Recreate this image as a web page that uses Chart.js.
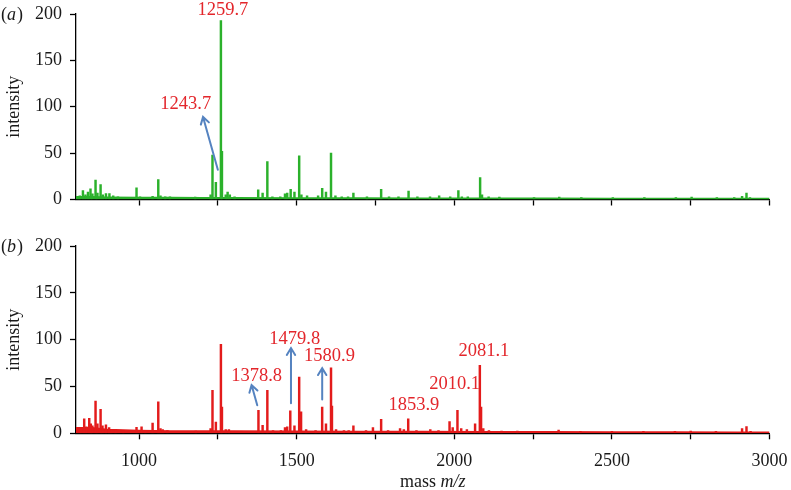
<!DOCTYPE html>
<html>
<head>
<meta charset="utf-8">
<script src="https://cdn.jsdelivr.net/npm/chart.js@4.4.0/dist/chart.umd.min.js"></script>
<style>
  body { margin: 0; background: #fff; }
  canvas { position: absolute; left: 0; }
  #specA { top: 0; }
  #specB { top: 230px; }
</style>
</head>
<body>
<canvas id="specA" width="791" height="215"></canvas>
<canvas id="specB" width="791" height="260"></canvas>
<script>
// peak lists (mass m/z, intensity)
const massA = [805, 812, 822, 830, 838, 846, 852, 862, 868, 878, 885, 895, 906, 918, 933, 992, 1003, 1043, 1061, 1068, 1083, 1098, 1178, 1227, 1233, 1243.7, 1259.7, 1263, 1275, 1281, 1288, 1303, 1378, 1392, 1407, 1423, 1448, 1463, 1470, 1481, 1493, 1508, 1515, 1533, 1568, 1581, 1593, 1609, 1623, 1643, 1663, 1680, 1723, 1768, 1793, 1823, 1855, 1883, 1923, 1952, 1987, 2013, 2024, 2043, 2082, 2088, 2109, 2143, 2253, 2333, 2403, 2503, 2603, 2703, 2753, 2833, 2888, 2913, 2927, 2938];
const intA  = [3, 4, 9.5, 5, 8, 11.5, 6, 21, 7, 16, 5, 6.5, 6.5, 4, 3, 12.5, 3, 3.5, 21.5, 4, 3, 3, 2.5, 5, 48, 18.5, 193, 52, 5, 8, 5, 3, 10.5, 7, 41, 3, 3, 6, 7, 11, 8, 47, 5, 4, 4, 12, 8, 50, 4, 3, 3, 7, 3, 11, 3, 3, 9, 3, 3, 4, 3, 9.5, 3, 3, 23.5, 5, 3, 2.5, 2, 2.5, 2, 2, 2, 2, 2.5, 2, 2, 3.5, 7, 2];

const massB = [805, 812, 818, 826, 833, 842, 847, 852, 862, 868, 878, 884, 895, 905, 912, 925, 950, 992, 1008, 1020, 1043, 1061, 1068, 1075, 1090, 1180, 1227, 1233, 1243.7, 1259.7, 1263, 1275, 1285, 1378.8, 1392, 1407, 1425, 1450, 1463, 1470, 1479.8, 1493, 1508, 1514, 1530, 1560, 1580.9, 1593, 1609, 1612, 1625, 1650, 1665, 1680, 1720, 1742, 1768, 1790, 1828, 1840, 1853.9, 1880, 1924, 1950, 1985, 1995, 2010.1, 2022, 2040, 2066, 2081.1, 2085, 2092, 2110, 2150, 2200, 2331, 2400, 2500, 2600, 2700, 2750, 2830, 2913, 2927, 2940];
const intB  = [5, 6, 4, 15.5, 7, 16, 10, 8, 34.5, 10, 25.5, 8, 9, 6, 4, 3, 3, 6.5, 7, 3, 11, 33.5, 5, 4, 3, 2.5, 5, 46, 12, 95, 28, 4, 4, 24.5, 8.5, 46, 3, 3, 6, 7, 24, 8, 60, 23, 4, 3, 28, 10, 70, 29, 4, 3, 3, 8, 3, 6, 15, 3, 5, 4, 15.5, 3, 4, 3, 12.5, 6, 24.5, 5, 4, 10, 72.5, 28, 5, 3, 2.5, 2.5, 3.5, 2, 2, 2, 2, 2.5, 2, 5, 7.3, 2];

// baseline noise level
const baseMass = [800, 850, 900, 1000, 1100, 1200, 1300, 1500, 1700, 1900, 2100, 2300, 2500, 2700, 2900, 3000];
const baseA    = [3, 3, 2.5, 2, 2, 1.8, 1.8, 1.6, 1.5, 1.4, 1.3, 1.2, 1.1, 1, 1, 1];
const baseB    = [6, 6, 4, 3, 2.5, 2.5, 2.5, 2.2, 2, 1.8, 1.6, 1.5, 1.4, 1.3, 1.2, 1.2];

const xTicks = [1000, 1250, 1500, 1750, 2000, 2250, 2500, 2750, 3000];
const yTicks = [0, 25, 50, 75, 100, 125, 150, 175, 200];

// peak labels and arrows, in data units
const labelsA = [
  { text: "1259.7", mass: 1266, int: 204 },
  { text: "1243.7", mass: 1148, int: 103 }
];
const arrowsA = [
  { from: [1250, 32], to: [1203, 89] }
];
const labelsB = [
  { text: "1378.8", mass: 1373, int: 61 },
  { text: "1479.8", mass: 1494, int: 101 },
  { text: "1580.9", mass: 1604, int: 82 },
  { text: "1853.9", mass: 1872, int: 30 },
  { text: "2010.1", mass: 2001, int: 52.5 },
  { text: "2081.1", mass: 2094, int: 88 }
];
const arrowsB = [
  { from: [1375, 30], to: [1357, 51.5] },
  { from: [1482, 32], to: [1482, 91] },
  { from: [1581, 36], to: [1581, 69.5] }
];

const serif = '"Liberation Serif", "Times New Roman", serif';

const toPoints = (xs, ys) => xs.map((x, i) => ({ x: x, y: ys[i] }));

// draws peak labels, arrows, panel tag and the x title
const decor = {
  id: "decor",
  afterDraw(chart, args, opts) {
    const { ctx, scales: { x, y } } = chart;
    ctx.save();
    ctx.font = "18.5px " + serif;
    ctx.fillStyle = "#e3262b";
    ctx.textAlign = "center";
    ctx.textBaseline = "middle";
    opts.labels.forEach(l => {
      ctx.fillText(l.text, x.getPixelForValue(l.mass), y.getPixelForValue(l.int));
    });

    ctx.strokeStyle = "#5583c0";
    ctx.lineWidth = 2;
    ctx.lineCap = "round";
    opts.arrows.forEach(a => {
      const x1 = x.getPixelForValue(a.from[0]), y1 = y.getPixelForValue(a.from[1]);
      const x2 = x.getPixelForValue(a.to[0]), y2 = y.getPixelForValue(a.to[1]);
      const ang = Math.atan2(y2 - y1, x2 - x1);
      const h = 8;
      ctx.beginPath();
      ctx.moveTo(x1, y1);
      ctx.lineTo(x2, y2);
      ctx.moveTo(x2 - h * Math.cos(ang - 0.55), y2 - h * Math.sin(ang - 0.55));
      ctx.lineTo(x2, y2);
      ctx.lineTo(x2 - h * Math.cos(ang + 0.55), y2 - h * Math.sin(ang + 0.55));
      ctx.stroke();
    });

    // panel tag like "(a)" with italic letter
    ctx.fillStyle = "#1a1a1a";
    ctx.textAlign = "left";
    let tx = 1;
    const ty = y.getPixelForValue(200) + 1;
    ctx.font = "18px " + serif;
    ctx.fillText("(", tx, ty);
    tx += ctx.measureText("(").width;
    ctx.font = "italic 18px " + serif;
    ctx.fillText(opts.tag, tx, ty);
    tx += ctx.measureText(opts.tag).width + 1;
    ctx.font = "18px " + serif;
    ctx.fillText(")", tx, ty);

    if (opts.xTitle) {
      ctx.font = "18px " + serif;
      const w1 = ctx.measureText("mass ").width;
      ctx.font = "italic 18px " + serif;
      const w2 = ctx.measureText("m/z").width;
      let sx = (x.left + x.right) / 2 + 10 - (w1 + w2) / 2;
      const sy = chart.height - 8;
      ctx.font = "18px " + serif;
      ctx.fillText("mass ", sx, sy);
      ctx.font = "italic 18px " + serif;
      ctx.fillText("m/z", sx + w1, sy);
    }
    ctx.restore();
  }
};

function makeSpectrum(id, masses, ints, base, color, opts) {
  const ctx = document.getElementById(id).getContext("2d");
  return new Chart(ctx, {
    type: "bar",
    data: {
      datasets: [{
        type: "bar",
        data: toPoints(masses, ints),
        backgroundColor: color,
        barThickness: 1.8
      }, {
        type: "line",
        data: toPoints(baseMass, base),
        borderColor: color,
        backgroundColor: color,
        borderWidth: 1.6,
        pointRadius: 0,
        fill: "origin"
      }]
    },
    options: {
      responsive: false,
      animation: false,
      layout: { padding: { top: opts.top, right: 21.5, left: 0, bottom: 0 } },
      plugins: {
        legend: { display: false },
        tooltip: { enabled: false },
        decor: { labels: opts.labels, arrows: opts.arrows, tag: opts.tag, xTitle: opts.showX }
      },
      scales: {
        x: {
          type: "linear",
          min: 800,
          max: 3000,
          offset: false,
          afterBuildTicks: s => { s.ticks = xTicks.map(v => ({ value: v })); },
          afterFit: s => { s.height = opts.xHeight; s.paddingLeft = 0; s.paddingRight = 0; },
          border: { color: "#000", width: 1.3 },
          grid: { drawOnChartArea: false, tickLength: 6, tickColor: "#000", tickWidth: 1.3, offset: false },
          ticks: {
            autoSkip: false,
            maxRotation: 0,
            padding: 11,
            color: "#1a1a1a",
            font: { family: serif, size: 18 },
            callback: v => (opts.showX && v % 500 === 0) ? String(v) : ""
          }
        },
        y: {
          min: 0,
          max: 200,
          afterBuildTicks: s => { s.ticks = yTicks.map(v => ({ value: v })); },
          afterFit: s => { s.width = 76; s.paddingTop = 0; s.paddingBottom = 0; },
          border: { color: "#000", width: 1.3 },
          grid: { drawOnChartArea: false, tickLength: 6, tickColor: "#000", tickWidth: 1.3 },
          title: {
            display: true,
            text: "intensity",
            color: "#1a1a1a",
            padding: { top: 3, bottom: 0 },
            font: { family: serif, size: 18 }
          },
          ticks: {
            padding: 8,
            color: "#1a1a1a",
            font: { family: serif, size: 18 },
            callback: v => (v % 50 === 0) ? String(v) : ""
          }
        }
      }
    },
    plugins: [decor]
  });
}

makeSpectrum("specA", massA, intA, baseA, "#2bb12b",
  { top: 14, xHeight: 15.5, labels: labelsA, arrows: arrowsA, tag: "a", showX: false });
makeSpectrum("specB", massB, intB, baseB, "#e31b1b",
  { top: 16, xHeight: 56.7, labels: labelsB, arrows: arrowsB, tag: "b", showX: true });
</script>
</body>
</html>
